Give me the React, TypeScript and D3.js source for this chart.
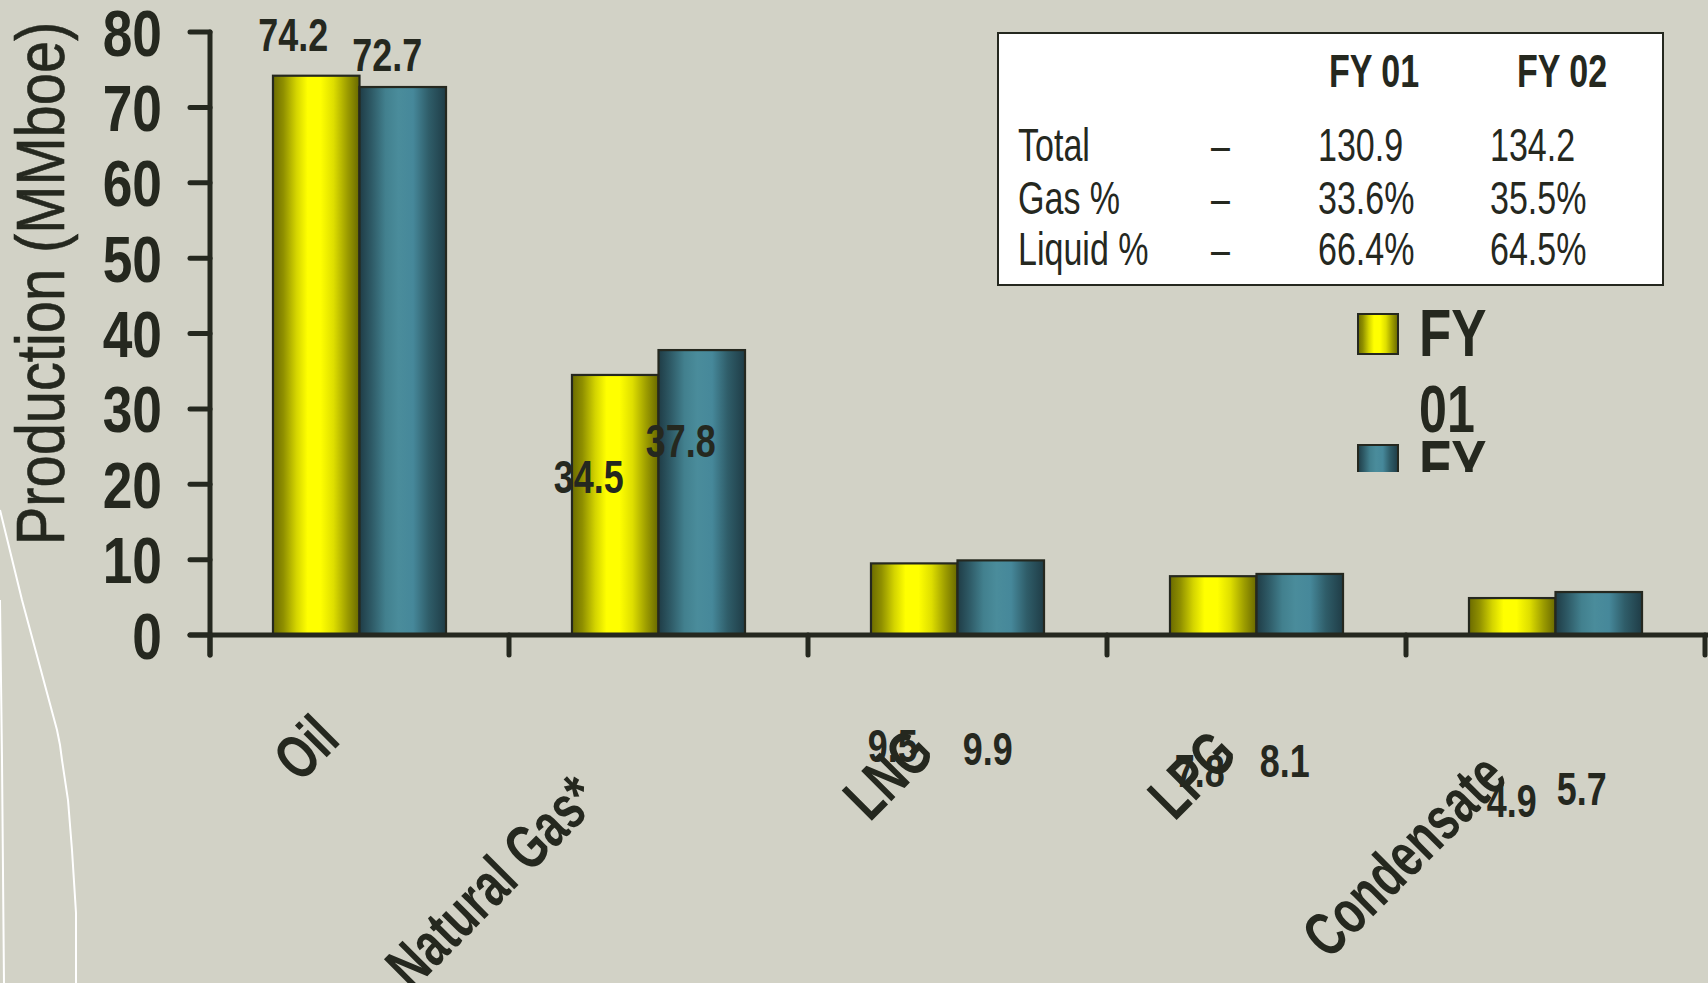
import React from "react";
import * as d3 from "d3";

// ---------- data ----------
const categories = ["Oil", "Natural Gas*", "LNG", "LPG", "Condensate"];
const seriesNames = ["FY 01", "FY 02"];
const fy01 = [74.2, 34.5, 9.5, 7.8, 4.9];
const fy02 = [72.7, 37.8, 9.9, 8.1, 5.7];
const yTicks = [0, 10, 20, 30, 40, 50, 60, 70, 80];
const yTitle = "Production (MMboe)";
const tableRowLabels = ["Total", "Gas %", "Liquid %"];
const tableFy01 = ["130.9", "33.6%", "66.4%"];
const tableFy02 = ["134.2", "35.5%", "64.5%"];

// ---------- layout (not data) ----------
const W = 1708;
const H = 983;
const BG = "#d2d2c6";
const INK = "#25281f";
const FONT = "'Liberation Sans', Arial, sans-serif";
// value-label offsets from bar centre / bar top, as placed in the original
const labelDx = [
  [-23, -26.5, -21.5, -13.5, -0.5],
  [-15.5, -21, -13, -15, -17],
];
const labelDy = [
  [-25, 118, 199, 211, 219],
  [-16, 107, 205, 203, 213],
];
// category label end point: dx from band centre, absolute baseline y
const catDx = [-17.5, -57, -21, -17, -46];
const catY = [742, 802, 756, 757, 780];

type TP = {
  x: number;
  y: number;
  sx?: number;
  rot?: number;
  anchor?: "start" | "middle" | "end";
  size: number;
  weight?: string | number;
  stroke?: number;
  children: React.ReactNode;
};
function CText({ x, y, sx = 0.8, rot = 0, anchor = "middle", size, weight = "normal", stroke = 0, children }: TP) {
  return (
    <text
      transform={`translate(${x},${y}) rotate(${rot}) scale(${sx},1)`}
      textAnchor={anchor}
      fontSize={size}
      fontWeight={weight}
      fontFamily={FONT}
      fill={INK}
      stroke={stroke ? INK : "none"}
      strokeWidth={stroke}
    >
      {children}
    </text>
  );
}

export default function App() {
  const x0 = d3
    .scaleBand<string>()
    .domain(categories)
    .range([210, 1705])
    .paddingInner(0)
    .paddingOuter(0);
  const x1 = d3
    .scaleBand<string>()
    .domain(seriesNames)
    .range([0, x0.bandwidth()])
    .paddingInner(0)
    .paddingOuter(0.728);
  const y = d3.scaleLinear().domain([0, 80]).range([635, 32]);
  const series = [fy01, fy02];
  const grads = ["gradYellow", "gradTeal"];
  const boundaries = [...categories.map((c) => x0(c) as number), x0.range()[1]];
  const axisX = x0.range()[0];
  const y0 = y(0);

  const tableX = 998;
  const tableY = 33;
  const tableW = 665;
  const tableH = 252;
  const rowBase = [161, 213.5, 265];

  const legendX = 1358;
  const legendY = [314, 445];
  const legendStep = 41;

  return (
    <div>
      <style>{`body{margin:0;background:${BG}}`}</style>
      <svg width={W} height={H} style={{ display: "block" }} xmlns="http://www.w3.org/2000/svg">
        <defs>
          <linearGradient id="gradYellow" x1="0" x2="1" y1="0" y2="0">
            <stop offset="0" stopColor="#6b6b00" />
            <stop offset="0.12" stopColor="#8f8f00" />
            <stop offset="0.27" stopColor="#d4d400" />
            <stop offset="0.4" stopColor="#ffff00" />
            <stop offset="0.55" stopColor="#ffff00" />
            <stop offset="0.7" stopColor="#dede00" />
            <stop offset="0.86" stopColor="#9c9c00" />
            <stop offset="1" stopColor="#686800" />
          </linearGradient>
          <linearGradient id="gradTeal" x1="0" x2="1" y1="0" y2="0">
            <stop offset="0" stopColor="#1f3c46" />
            <stop offset="0.14" stopColor="#2e5a66" />
            <stop offset="0.3" stopColor="#42808e" />
            <stop offset="0.45" stopColor="#4a8c9b" />
            <stop offset="0.62" stopColor="#46889a" />
            <stop offset="0.8" stopColor="#2f5d69" />
            <stop offset="1" stopColor="#1f3c46" />
          </linearGradient>
          <clipPath id="legendClip">
            <rect x={1340} y={290} width={200} height={182} />
          </clipPath>
        </defs>
        <rect x={0} y={0} width={W} height={H} fill={BG} />

        {/* decorative white lines */}
        <path
          d="M0,510 L22,600 L57,730 L60,745 L62,760 L68,800 L72,850 L76,913 L76,983"
          fill="none"
          stroke="#ffffff"
          strokeWidth={2}
        />
        <path d="M0,600 L2,760 L4,983" fill="none" stroke="#ffffff" strokeWidth={2} />

        {/* y axis title */}
        <CText x={64} y={283.5} rot={-90} size={68} sx={0.85} stroke={0.6}>
          {yTitle}
        </CText>

        {/* bars */}
        {categories.map((c, i) =>
          seriesNames.map((s, k) => {
            const v = series[k][i];
            return (
              <rect
                key={c + s}
                x={(x0(c) as number) + (x1(s) as number)}
                y={y(v)}
                width={x1.bandwidth()}
                height={y0 - y(v)}
                fill={`url(#${grads[k]})`}
                stroke={INK}
                strokeWidth={2.2}
              />
            );
          })
        )}

        {/* axes */}
        <line x1={axisX} x2={axisX} y1={y(80)} y2={y0 + 20} stroke={INK} strokeWidth={5} strokeLinecap="round" />
        <line x1={axisX - 20} x2={W} y1={y0} y2={y0} stroke={INK} strokeWidth={5} strokeLinecap="round" />
        {yTicks.map((t) => (
          <g key={t}>
            <line x1={axisX - 20} x2={axisX} y1={y(t)} y2={y(t)} stroke={INK} strokeWidth={5} strokeLinecap="round" />
            <CText x={162} y={y(t) + 23.5} anchor="end" size={65} weight="bold" sx={0.82}>
              {t}
            </CText>
          </g>
        ))}
        {boundaries.map((b, i) => (
          <line key={i} x1={b} x2={b} y1={y0} y2={y0 + 20} stroke={INK} strokeWidth={5} strokeLinecap="round" />
        ))}

        {/* category labels */}
        {categories.map((c, i) => (
          <CText
            key={c}
            x={(x0(c) as number) + x0.bandwidth() / 2 + catDx[i]}
            y={catY[i]}
            rot={-45}
            anchor="end"
            size={62}
            weight="bold"
            sx={0.72}
          >
            {c}
          </CText>
        ))}

        {/* value labels */}
        {categories.map((c, i) =>
          seriesNames.map((s, k) => {
            const v = series[k][i];
            const cx = (x0(c) as number) + (x1(s) as number) + x1.bandwidth() / 2;
            return (
              <CText
                key={"l" + c + s}
                x={cx + labelDx[k][i]}
                y={y(v) + labelDy[k][i]}
                size={46}
                weight="bold"
                sx={0.78}
              >
                {v.toFixed(1)}
              </CText>
            );
          })
        )}

        {/* summary table */}
        <rect x={tableX} y={tableY} width={tableW} height={tableH} fill="#ffffff" stroke={INK} strokeWidth={2} />
        <CText x={1329} y={87} anchor="start" size={46} weight="bold" sx={0.74}>
          {seriesNames[0]}
        </CText>
        <CText x={1517} y={87} anchor="start" size={46} weight="bold" sx={0.74}>
          {seriesNames[1]}
        </CText>
        {tableRowLabels.map((r, i) => (
          <g key={r}>
            <CText x={1018} y={rowBase[i]} anchor="start" size={46} sx={0.74}>
              {r}
            </CText>
            <CText x={1211} y={rowBase[i]} anchor="start" size={46} sx={0.74}>
              {"–"}
            </CText>
            <CText x={1318} y={rowBase[i]} anchor="start" size={46} sx={0.74}>
              {tableFy01[i]}
            </CText>
            <CText x={1490} y={rowBase[i]} anchor="start" size={46} sx={0.74}>
              {tableFy02[i]}
            </CText>
          </g>
        ))}

        {/* legend (clipped as in the original) */}
        <g clipPath="url(#legendClip)">
          {seriesNames.map((s, k) => {
            const parts = s.split(" ");
            return (
              <g key={s}>
                <rect
                  x={legendX}
                  y={legendY[k]}
                  width={legendStep - 1}
                  height={legendStep - 1}
                  fill={`url(#${grads[k]})`}
                  stroke={INK}
                  strokeWidth={2}
                />
                <CText x={1419} y={legendY[k] + 42} anchor="start" size={66} weight="bold" sx={0.8}>
                  {parts[0]}
                </CText>
                <CText x={1419} y={legendY[k] + 118} anchor="start" size={66} weight="bold" sx={0.76}>
                  {parts[1]}
                </CText>
              </g>
            );
          })}
        </g>
      </svg>
    </div>
  );
}
